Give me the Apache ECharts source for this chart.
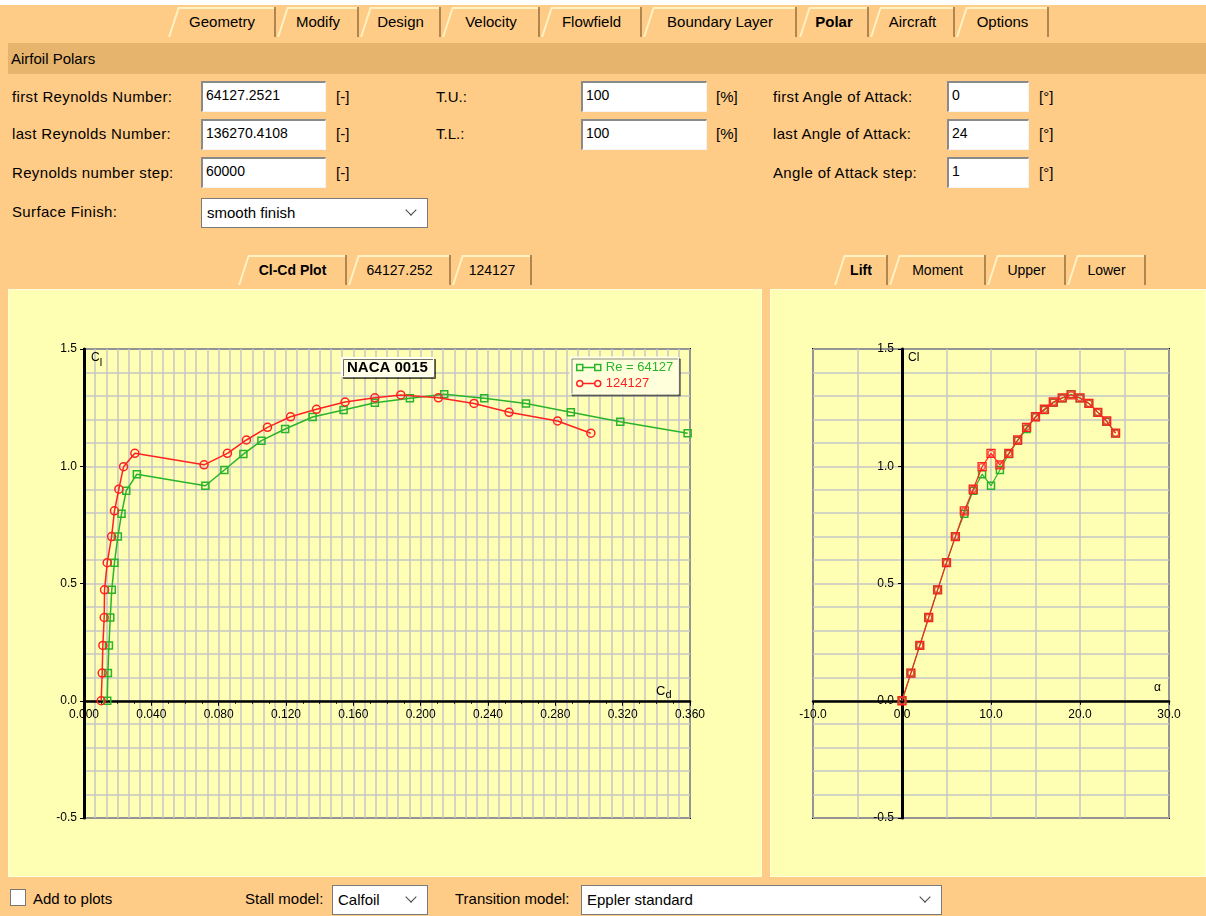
<!DOCTYPE html>
<html><head><meta charset="utf-8">
<script src="https://cdn.jsdelivr.net/npm/echarts@6/dist/echarts.min.js"></script>
<style>
html,body{margin:0;padding:0;}
body{width:1206px;height:916px;position:relative;overflow:hidden;background:#FFCC88;font-family:"Liberation Sans",Arial,sans-serif;font-size:15px;color:#000;}
#topstrip{position:absolute;left:0;top:0;width:1206px;height:5px;background:#fff;}
.tab{position:absolute;height:30px;line-height:30px;text-align:center;background:#FFCC88;border-right:2px solid #B08650;box-sizing:border-box;padding-left:2px;white-space:nowrap;}
.tab::before{content:"";position:absolute;left:5px;top:0;height:100%;border-left:2px solid #FFF2C4;transform:skewX(-18deg);}
.tab::after{content:"";position:absolute;left:10px;right:0;top:0;border-top:2px solid #FFF2C4;}
.tab.act{font-weight:bold;}
.tab.sm{font-size:14px;}
#hdr{position:absolute;left:8px;top:43px;width:1198px;height:31px;background:#E6B46C;line-height:31px;padding-left:3px;box-sizing:border-box;}
.lbl{position:absolute;line-height:20px;white-space:nowrap;}
.lbl.sp{letter-spacing:0.35px;}
.inp{position:absolute;background:#fff;border-top:2px solid #8A8A8A;border-left:2px solid #8A8A8A;border-right:1px solid #F4F4F4;border-bottom:1px solid #F4F4F4;box-sizing:border-box;padding-left:3px;line-height:24px;font-size:14px;white-space:nowrap;}
.sel{position:absolute;background:#fff;border:1px solid #7A7A7A;box-sizing:border-box;padding-left:5px;font-size:15px;white-space:nowrap;}
.chev{position:absolute;width:7px;height:7px;border-right:1.3px solid #444;border-bottom:1.3px solid #444;transform:rotate(45deg);}
.panel{position:absolute;background:#FFFFB4;border:1px solid #FFFFDC;box-sizing:border-box;}
.chart{position:absolute;}
#chk{position:absolute;left:10px;top:889px;width:16px;height:17px;background:#fff;border:1px solid #777;box-sizing:border-box;}
</style>
</head>
<body>
<div id="topstrip"></div>
<div class="tab" style="left:168px;width:108px;top:7px;">Geometry</div>
<div class="tab" style="left:277px;width:82px;top:7px;">Modify</div>
<div class="tab" style="left:360px;width:81px;top:7px;">Design</div>
<div class="tab" style="left:442px;width:98px;top:7px;">Velocity</div>
<div class="tab" style="left:541px;width:101px;top:7px;">Flowfield</div>
<div class="tab" style="left:643px;width:154px;top:7px;">Boundary Layer</div>
<div class="tab act" style="left:799px;width:70px;top:7px;">Polar</div>
<div class="tab" style="left:870px;width:85px;top:7px;">Aircraft</div>
<div class="tab" style="left:956px;width:93px;top:7px;">Options</div>

<div id="hdr">Airfoil Polars</div>

<div class="lbl sp" style="left:12px;top:87px;">first Reynolds Number:</div>
<div class="inp" style="left:201px;top:81px;width:125px;height:31px;">64127.2521</div>
<div class="lbl" style="left:336px;top:87px;">[-]</div>
<div class="lbl" style="left:436px;top:87px;">T.U.:</div>
<div class="inp" style="left:581px;top:81px;width:126px;height:31px;">100</div>
<div class="lbl" style="left:716px;top:87px;">[%]</div>
<div class="lbl sp" style="left:773px;top:87px;">first Angle of Attack:</div>
<div class="inp" style="left:947px;top:81px;width:82px;height:31px;">0</div>
<div class="lbl" style="left:1039px;top:87px;">[°]</div>

<div class="lbl sp" style="left:12px;top:124px;">last Reynolds Number:</div>
<div class="inp" style="left:201px;top:119px;width:125px;height:31px;">136270.4108</div>
<div class="lbl" style="left:336px;top:124px;">[-]</div>
<div class="lbl" style="left:436px;top:124px;">T.L.:</div>
<div class="inp" style="left:581px;top:119px;width:126px;height:31px;">100</div>
<div class="lbl" style="left:716px;top:124px;">[%]</div>
<div class="lbl sp" style="left:773px;top:124px;">last Angle of Attack:</div>
<div class="inp" style="left:947px;top:119px;width:82px;height:31px;">24</div>
<div class="lbl" style="left:1039px;top:124px;">[°]</div>

<div class="lbl sp" style="left:12px;top:163px;">Reynolds number step:</div>
<div class="inp" style="left:201px;top:157px;width:125px;height:31px;">60000</div>
<div class="lbl" style="left:336px;top:163px;">[-]</div>
<div class="lbl sp" style="left:773px;top:163px;">Angle of Attack step:</div>
<div class="inp" style="left:947px;top:157px;width:82px;height:31px;">1</div>
<div class="lbl" style="left:1039px;top:163px;">[°]</div>

<div class="lbl sp" style="left:12px;top:202px;">Surface Finish:</div>
<div class="sel" style="left:201px;top:198px;width:227px;height:30px;line-height:28px;">smooth finish<span class="chev" style="left:205px;top:7px;"></span></div>

<div class="tab act sm" style="left:238px;width:109px;top:255px;">Cl-Cd Plot</div>
<div class="tab sm" style="left:348px;width:103px;top:255px;">64127.252</div>
<div class="tab sm" style="left:452px;width:80px;top:255px;">124127</div>
<div class="tab act sm" style="left:834px;width:54px;top:255px;">Lift</div>
<div class="tab sm" style="left:889px;width:97px;top:255px;">Moment</div>
<div class="tab sm" style="left:987px;width:79px;top:255px;">Upper</div>
<div class="tab sm" style="left:1067px;width:79px;top:255px;">Lower</div>

<div class="panel" style="left:8px;top:289px;width:754px;height:588px;"></div>
<div class="panel" style="left:770px;top:289px;width:436px;height:588px;"></div>
<div id="chartL" class="chart" style="left:8px;top:290px;width:754px;height:587px;"></div>
<div id="chartR" class="chart" style="left:770px;top:290px;width:436px;height:587px;"></div>

<div id="chk"></div>
<div class="lbl" style="left:33px;top:889px;">Add to plots</div>
<div class="lbl" style="left:245px;top:889px;">Stall model:</div>
<div class="sel" style="left:332px;top:885px;width:96px;height:30px;line-height:28px;">Calfoil<span class="chev" style="left:74px;top:7px;"></span></div>
<div class="lbl" style="left:455px;top:889px;">Transition model:</div>
<div class="sel" style="left:581px;top:885px;width:361px;height:30px;line-height:28px;">Eppler standard<span class="chev" style="left:339px;top:7px;"></span></div>

<script>
// ---- data ----
const alpha = [0,1,2,3,4,5,6,7,8,9,10,11,12,13,14,15,16,17,18,19,20,21,22,23,24];
const seriesNames = ['Re = 64127', '124127'];
const cdRe64127 = [0.0138,0.0142,0.0148,0.0156,0.0165,0.0181,0.0201,0.0223,0.0251,0.0314,0.0721,0.0834,0.0947,0.1054,0.1195,0.1358,0.1542,0.1728,0.1936,0.2140,0.2378,0.2626,0.2892,0.3186,0.3586];
const clRe64127 = [0.000,0.118,0.236,0.355,0.473,0.589,0.700,0.797,0.896,0.966,0.917,0.984,1.052,1.109,1.159,1.210,1.240,1.271,1.290,1.307,1.290,1.268,1.230,1.190,1.141];
const cdRe124127 = [0.0102,0.0108,0.0112,0.0120,0.0122,0.0138,0.0164,0.0181,0.0207,0.0235,0.0302,0.0713,0.0852,0.0965,0.1090,0.1227,0.1381,0.1551,0.1728,0.1882,0.2105,0.2317,0.2525,0.2813,0.3011];
const clRe124127 = [0.000,0.118,0.236,0.355,0.473,0.589,0.700,0.810,0.902,0.998,1.055,1.006,1.055,1.112,1.166,1.211,1.243,1.274,1.292,1.304,1.292,1.268,1.230,1.193,1.141];
const plotTitle = 'NACA 0015';
// axis ranges
const cdRange = [0, 0.36, 0.04];
const clRange = [-0.5, 1.5, 0.5];
const alphaRange = [-10, 30, 10];

const GREEN = '#2AB42A', RED = '#FF2222', GRID = '#C6C6C6';
const FONT = 'Liberation Sans, Arial, sans-serif';
const zip = (a, b) => a.map((v, i) => [v, b[i]]);

const axisTxt = {color:'#000', fontSize:12, fontFamily:FONT};
const ICON_SQ = 'path://M0,0 H6 V6 H0 Z M6,3 H18 M18,0 H24 V6 H18 Z';
const ICON_CI = 'path://M6,3 A3,3 0 1,1 0,3 A3,3 0 1,1 6,3 Z M6,3 H18 M24,3 A3,3 0 1,1 18,3 A3,3 0 1,1 24,3 Z';

const chartL = echarts.init(document.getElementById('chartL'), null, {renderer:'canvas'});
chartL.setOption({
  animation:false,
  textStyle:{fontFamily:FONT},
  title:{text:plotTitle, left:333, top:67, padding:[3,6,2,6], backgroundColor:'#FFFFE8',
    borderColor:'#FFFFFF', borderWidth:1, shadowColor:'rgba(0,0,0,0.55)', shadowOffsetX:2, shadowOffsetY:2,
    textStyle:{fontSize:15, fontWeight:'bold', color:'#000', fontFamily:FONT}},
  legend:{orient:'vertical', left:562, top:67, padding:[4,5,4,6], itemGap:3, itemWidth:24, itemHeight:7,
    backgroundColor:'#FFFFDC', borderColor:'#FFFFF4', borderWidth:1, shadowColor:'rgba(0,0,0,0.45)',
    shadowOffsetX:2, shadowOffsetY:2, selectedMode:false,
    textStyle:{fontSize:13, fontFamily:FONT},
    data:[{name:seriesNames[0], icon:ICON_SQ, textStyle:{color:GREEN},
           itemStyle:{color:'rgba(0,0,0,0)', borderColor:GREEN, borderWidth:1.5}},
          {name:seriesNames[1], icon:ICON_CI, textStyle:{color:RED},
           itemStyle:{color:'rgba(0,0,0,0)', borderColor:RED, borderWidth:1.5}}]},
  grid:{left:76, right:72, top:59, bottom:59, show:true, borderColor:'#000', borderWidth:2},
  xAxis:[
    {type:'value', min:cdRange[0], max:cdRange[1], interval:cdRange[2], z:3,
     axisLine:{onZero:false, lineStyle:{color:'#000', width:2.5}},
     axisTick:{show:true, length:5, lineStyle:{color:'#000'}},
     minorTick:{show:true, splitNumber:4, length:3, lineStyle:{color:'#000'}},
     axisLabel:Object.assign({margin:8, formatter:v => v.toFixed(3)}, axisTxt),
     splitLine:{show:false},
     name:'{c|C}{s|d}', nameLocation:'end', nameGap:-34,
     nameTextStyle:{align:'left', verticalAlign:'bottom', padding:[0,0,0,0],
       rich:{c:{fontSize:13, color:'#000', verticalAlign:'top', lineHeight:16},
             s:{fontSize:11, color:'#000', verticalAlign:'bottom', lineHeight:16, padding:[6,0,0,0]}}}},
    {type:'value', min:0, max:54, interval:1, position:'top', z:0,
     axisLine:{show:false}, axisTick:{show:false}, axisLabel:{show:false},
     splitLine:{show:true, lineStyle:{color:GRID, width:1.5}}}
  ],
  yAxis:{type:'value', min:clRange[0], max:clRange[1], interval:clRange[2], z:3,
    axisLine:{onZero:false, lineStyle:{color:'#000', width:3}},
    axisTick:{show:true, length:4, lineStyle:{color:'#000'}},
    axisLabel:Object.assign({margin:7, formatter:v => v.toFixed(1)}, axisTxt),
    splitLine:{show:true, lineStyle:{color:GRID, width:1.5}},
    minorTick:{show:false, splitNumber:5},
    minorSplitLine:{show:true, lineStyle:{color:GRID, width:1.5}},
    name:'{c|C}{s|l}', nameLocation:'end', nameGap:-3,
    nameTextStyle:{align:'left', verticalAlign:'top', padding:[0,0,0,7],
      rich:{c:{fontSize:12, color:'#000', verticalAlign:'top', lineHeight:16},
            s:{fontSize:11, color:'#000', verticalAlign:'bottom', lineHeight:16, padding:[6,0,0,0]}}}},
  series:[
    {type:'line', name:seriesNames[0], xAxisIndex:0, data:zip(cdRe64127, clRe64127), z:4,
     symbol:'rect', symbolSize:7, showSymbol:true, silent:true,
     lineStyle:{color:GREEN, width:1.5}, itemStyle:{color:'rgba(0,0,0,0)', borderColor:GREEN, borderWidth:1.5}},
    {type:'line', name:seriesNames[1], xAxisIndex:0, data:zip(cdRe124127, clRe124127), z:5,
     symbol:'circle', symbolSize:8, showSymbol:true, silent:true,
     lineStyle:{color:RED, width:1.5}, itemStyle:{color:'rgba(0,0,0,0)', borderColor:RED, borderWidth:1.5}}
  ]
});
// move the Cd axis (line, ticks, labels) onto Cl = 0
{
  const y0 = chartL.convertToPixel({yAxisIndex:0}, 0);
  const yB = chartL.convertToPixel({yAxisIndex:0}, clRange[0]);
  chartL.setOption({xAxis:[{offset: y0 - yB}, {}]});
}

const chartR = echarts.init(document.getElementById('chartR'), null, {renderer:'canvas'});
chartR.setOption({
  animation:false,
  textStyle:{fontFamily:FONT},
  grid:{left:43, right:37, top:59, bottom:59, show:true, borderColor:'#000', borderWidth:2},
  xAxis:{type:'value', min:alphaRange[0], max:alphaRange[1], interval:alphaRange[2], z:3,
    axisLine:{onZero:false, lineStyle:{color:'#000', width:2.5}},
    axisTick:{show:true, length:4, lineStyle:{color:'#000'}},
    axisLabel:Object.assign({margin:8, formatter:v => v.toFixed(1)}, axisTxt),
    splitLine:{show:true, lineStyle:{color:GRID, width:1.5}},
    minorTick:{show:false, splitNumber:2},
    minorSplitLine:{show:true, lineStyle:{color:GRID, width:1.5}},
    name:'α', nameLocation:'end', nameGap:-15,
    nameTextStyle:{align:'left', verticalAlign:'bottom', padding:[0,0,7,0], fontSize:12, color:'#000'}},
  yAxis:{type:'value', min:clRange[0], max:clRange[1], interval:clRange[2], z:3,
    axisLine:{onZero:false, lineStyle:{color:'#000', width:3}},
    axisTick:{show:true, length:4, lineStyle:{color:'#000'}},
    axisLabel:Object.assign({margin:8, formatter:v => v.toFixed(1)}, axisTxt),
    splitLine:{show:true, lineStyle:{color:GRID, width:1.5}},
    minorTick:{show:false, splitNumber:5},
    minorSplitLine:{show:true, lineStyle:{color:GRID, width:1.5}},
    name:'Cl', nameLocation:'end', nameGap:-3,
    nameTextStyle:{align:'left', verticalAlign:'top', padding:[0,0,0,6], fontSize:12, color:'#000'}},
  series:[
    {type:'line', name:seriesNames[0], data:zip(alpha, clRe64127), z:4, silent:true,
     symbol:'rect', symbolSize:7, showSymbol:true,
     lineStyle:{color:GREEN, width:1.2}, itemStyle:{color:'rgba(0,0,0,0)', borderColor:GREEN, borderWidth:1.5}},
    {type:'line', name:seriesNames[1], data:zip(alpha, clRe124127), z:5, silent:true,
     symbol:'rect', symbolSize:8, showSymbol:true,
     lineStyle:{color:RED, width:1.2}, itemStyle:{color:'rgba(0,0,0,0)', borderColor:RED, borderWidth:1.3}},
    {type:'scatter', name:seriesNames[1] + ' ', data:zip(alpha, clRe124127), z:6, silent:true,
     symbol:'circle', symbolSize:6,
     itemStyle:{color:'rgba(0,0,0,0)', borderColor:RED, borderWidth:1.2}}
  ]
});
// move the alpha axis onto Cl = 0 and the Cl axis onto alpha = 0
{
  const y0 = chartR.convertToPixel({yAxisIndex:0}, 0);
  const yB = chartR.convertToPixel({yAxisIndex:0}, clRange[0]);
  const x0 = chartR.convertToPixel({xAxisIndex:0}, 0);
  const xL = chartR.convertToPixel({xAxisIndex:0}, alphaRange[0]);
  chartR.setOption({xAxis:{offset: y0 - yB}, yAxis:{offset: xL - x0}});
}
</script>
</body></html>
